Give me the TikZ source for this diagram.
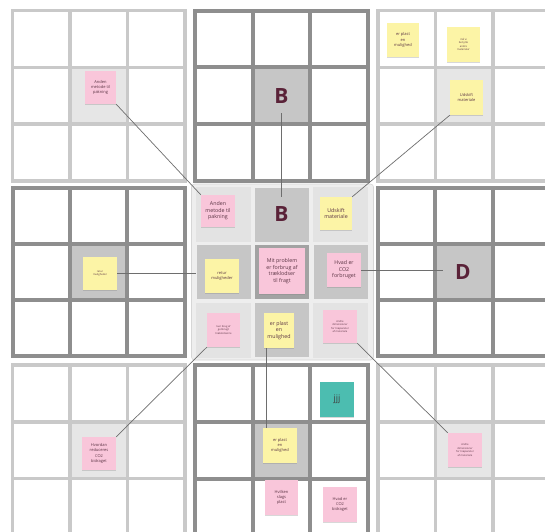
\documentclass[tikz,border=0pt]{standalone}
\usepackage{fontspec}
\setmainfont{Open Sans}
\usetikzlibrary{shadows}
\definecolor{lgrid}{HTML}{C9C9C9}
\definecolor{dgrid}{HTML}{8E8E8E}
\definecolor{lcell}{HTML}{E6E6E6}
\definecolor{dcell}{HTML}{C6C6C6}
\definecolor{pinknote}{HTML}{F9C6DA}
\definecolor{yellownote}{HTML}{FCF4A6}
\definecolor{tealnote}{HTML}{4CBDB0}
\definecolor{notetext}{HTML}{5B3444}
\definecolor{bigletter}{HTML}{5A2238}
\definecolor{conn}{HTML}{6E6E6E}
\definecolor{cbg}{HTML}{EEEEEE}
\definecolor{cframe}{HTML}{D6D6D6}
\definecolor{ccorner}{HTML}{E3E3E3}
\definecolor{ccenter}{HTML}{A3A3A3}
\tikzset{
  lightlines/.style={draw=lgrid, line width=3.6pt, line cap=rect},
  darklines/.style={draw=dgrid, line width=4pt, line cap=rect},
  note/.style={inner sep=0pt, align=center, text=notetext,
    drop shadow={shadow xshift=0pt, shadow yshift=-1.3pt, opacity=0.3}},
  pinkbox/.style={note, fill=pinknote},
  yellowbox/.style={note, fill=yellownote},
  tealbox/.style={note, fill=tealnote},
  sz/.style 2 args={minimum width=#1, minimum height=#2},
  fa/.style={font=\fontsize{2.6}{3.6}\selectfont},
  fb/.style={font=\fontsize{4}{5.3}\selectfont},
  fc/.style={font=\fontsize{5.3}{6.6}\selectfont},
  bigtext/.style={font=\bfseries\fontsize{21}{21}\selectfont, text=bigletter, inner sep=0pt},
  ccell/.style={inner sep=0pt, minimum width=#1, minimum height=#1},
  link/.style={draw=conn, line width=0.7pt},
}
% x0, y0, pitch x, pitch y, style, centre fill
\newcommand\lotusgrid[6]{%
  \fill[#6] (#1+#3,#2+#4) rectangle (#1+2*#3,#2+2*#4);
  \foreach \i in {0,1,2,3}{%
    \draw[#5] (#1+\i*#3,#2) -- (#1+\i*#3,#2+3*#4);
    \draw[#5] (#1,#2+\i*#4) -- (#1+3*#3,#2+\i*#4);
  }%
}
\begin{document}
\begin{tikzpicture}[x=1pt,y=-1pt]
\useasboundingbox (0,0) rectangle (545,531);
\fill[white] (0,0) rectangle (545,531);
\clip (0,0) rectangle (545,531);

% outer grids
\lotusgrid{12.5}{10.5}{57.4}{56.8}{lightlines}{lcell}
\lotusgrid{195}{10.5}{57.5}{56.8}{darklines}{dcell}
\lotusgrid{378}{10.5}{57.4}{56.8}{lightlines}{lcell}
\lotusgrid{12.5}{188}{57.4}{56}{darklines}{dcell}
\lotusgrid{378}{188}{57.4}{56}{darklines}{dcell}
\lotusgrid{12.5}{365}{57.4}{56.8}{lightlines}{lcell}
\lotusgrid{195}{365}{57.5}{56.8}{darklines}{dcell}
\lotusgrid{378}{365}{57.4}{56.8}{lightlines}{lcell}

% centre grid
\draw[fill=cbg, draw=cframe, line width=0.6pt, rounded corners=3pt] (191.5,184) rectangle (373.5,360);
\node[ccell=55, fill=ccorner] (cellNW) at (223.5,214.5) {};
\node[ccell=54, fill=dcell]   (cellN)  at (281.5,214.5) {};
\node[ccell=55, fill=ccorner] (cellNE) at (340.5,214.5) {};
\node[ccell=54, fill=dcell]   (cellW)  at (223.5,272) {};
\node[ccell=54, fill=ccenter] (cellC)  at (281.5,272) {};
\node[ccell=54, fill=dcell]   (cellE)  at (340.5,272) {};
\node[ccell=55, fill=ccorner] (cellSW) at (223.5,330) {};
\node[ccell=54, fill=dcell]   (cellS)  at (281.5,330) {};
\node[ccell=55, fill=ccorner] (cellSE) at (340.5,330) {};

% centre notes
\node[pinkbox, sz={34}{32}, fc] (cAnden) at (218,211) {Anden\\metode til\\pakning};
\node[bigtext, minimum height=34] (cB) at (281.5,214) {B};
\node[yellowbox, sz={32}{33}, fc] (cUd) at (336,213.5) {Udskift\\materiale};
\node[yellowbox, sz={34}{34}, fb] (cRet) at (222,276) {retur\\muligheder};
\node[pinkbox, sz={46}{46}, fc] (cMit) at (282,271) {Mit problem\\er forbrug af\\træklodser\\til fragt};
\node[pinkbox, sz={34}{34}, fc] (cHvad) at (344,270) {Hvad er\\CO2\\forbruget};
\node[pinkbox, sz={33}{34}, fa] (cKun) at (223.5,330) {kun brug af\\genbrugt\\træklodserne};
\node[yellowbox, sz={30}{35}, fc] (cPl) at (279,330.5) {er plast\\en\\mulighed};
\node[pinkbox, sz={34}{33}, fa] (cAndre) at (340,326.5) {Andre\\dimensioner\\for træpaneler\\af materiale};

% outer notes
\node[pinkbox, sz={31}{33}, fb] (tAnden) at (100.5,87.5) {Anden\\metode til\\pakning};
\node[bigtext, minimum height=34] (tB) at (281.5,96) {B};
\node[yellowbox, sz={32}{34}, fb] (tPl) at (403,40) {er plast\\en\\mulighed};
\node[yellowbox, sz={33}{35}, fa] (tMaa) at (463.5,44.5) {må vi\\benytte\\andre\\materialer};
\node[yellowbox, sz={33}{35}, fb] (tUd) at (466.5,97.5) {Udskift\\materiale};
\node[yellowbox, sz={34}{33}, fa] (lRet) at (100,273.5) {retur\\muligheder};
\node[bigtext, minimum width=40] (rD) at (463,272) {D};
\node[pinkbox, sz={34}{33}, fb] (bHv) at (99,453.5) {Hvordan\\reduceres\\CO2\\bidraget};
\node[tealbox, sz={34}{35}, font=\fontsize{9}{10}\selectfont, text=black!75] (bJ) at (337,399.5) {jjj};
\node[yellowbox, sz={34}{35}, fb] (bPl) at (280,445.5) {er plast\\en\\mulighed};
\node[pinkbox, sz={33}{35}, fb] (bHvilken) at (281.5,497.5) {Hvilken\\slags\\plast};
\node[pinkbox, sz={34}{35}, fb] (bHvad) at (340,504.5) {Hvad er\\CO2\\bidraget};
\node[pinkbox, sz={34}{34}, fa] (brAndre) at (465,450) {Andre\\dimensioner\\for træpaneler\\af materiale};

% connectors
\draw[link] (tAnden.south east) -- (cAnden.north west);
\draw[link] (tB.south) -- (cB.north);
\draw[link] (tUd.south west) -- (cUd.north east);
\draw[link] (lRet.east) -- (lRet.east -| cellW.west);
\draw[link] (cHvad.east) -- (cHvad.east -| rD.west);
\draw[link] (cKun.south west) -- (bHv.north east);
\draw[link] ([xshift=4pt]bPl.north west) -- ([xshift=4pt]bPl.north west |- cPl.south);
\draw[link] (cAndre.south east) -- (brAndre.north west);
\end{tikzpicture}
\end{document}
